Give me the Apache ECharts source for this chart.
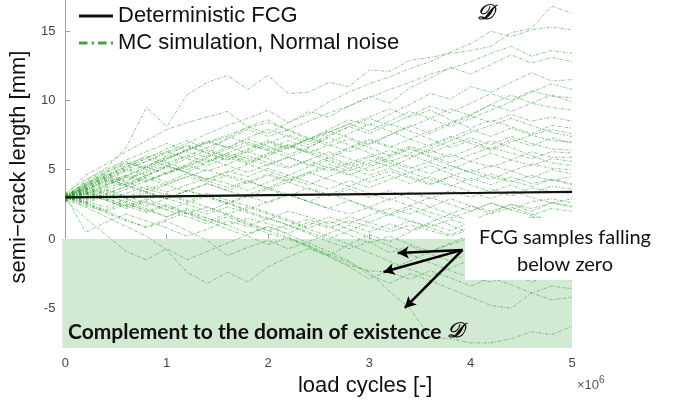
<!DOCTYPE html>
<html>
<head>
<meta charset="utf-8">
<script src="https://cdn.jsdelivr.net/npm/echarts@6/dist/echarts.min.js"></script>
<style>
  html, body { margin: 0; padding: 0; background: #fff; }
  #chart { width: 674px; height: 404px; }
</style>
</head>
<body>
<div id="chart"></div>
<script>
// load cycles (x 10^6) at which each MC sample is evaluated
const cycles = [0, 0.2, 0.4, 0.6, 0.8, 1.0, 1.2, 1.4, 1.6, 1.8, 2.0, 2.2, 2.4,
  2.6, 2.8, 3.0, 3.2, 3.4, 3.6, 3.8, 4.0, 4.2, 4.4, 4.6, 4.8, 5.0];

// deterministic FCG curve
const detCycles = [0, 1, 2, 3, 4, 5];
const detLength = [3.0, 3.08, 3.16, 3.24, 3.32, 3.4];

// Monte Carlo samples (semi-crack length, mm)
const mcRuns = [
  [3.0, 4.2, 5.1, 6.6, 9.5, 8.1, 10.4, 11.3, 11.8, 10.8, 11.8, 10.5, 10.6, 11.3, 11.0, 12.2, 12.1, 12.9, 13.1, 13.4, 13.6, 13.9, 14.9, 15.2, 16.8, 16.3],
  [3.1, 3.6, 4.4, 5.0, 5.6, 6.3, 6.9, 7.6, 8.2, 8.7, 9.3, 8.4, 9.0, 9.9, 10.6, 11.2, 11.7, 12.3, 12.8, 13.5, 14.1, 15.0, 14.6, 15.1, 15.3, 15.1],
  [2.9, 3.8, 4.5, 4.1, 5.2, 6.0, 6.8, 6.2, 7.3, 8.1, 7.6, 8.4, 9.2, 8.8, 9.6, 10.3, 9.8, 10.9, 11.6, 12.4, 11.9, 12.6, 13.3, 12.7, 13.1, 12.8],
  [3.2, 4.6, 5.4, 6.3, 7.1, 7.9, 8.4, 8.8, 9.2, 8.1, 8.6, 7.8, 7.2, 7.9, 8.6, 8.2, 9.0, 9.7, 10.5, 10.1, 11.0, 10.6, 11.3, 12.0, 11.4, 11.5],
  [3.0, 3.5, 4.2, 4.9, 5.3, 5.9, 6.4, 7.0, 6.6, 7.3, 7.9, 7.4, 6.8, 7.5, 8.1, 8.7, 8.2, 8.9, 9.6, 9.1, 9.8, 10.5, 10.0, 10.7, 10.3, 10.2],
  [3.1, 4.0, 4.8, 5.5, 5.1, 5.8, 6.3, 5.9, 6.7, 6.2, 6.9, 7.5, 7.0, 7.7, 8.3, 7.8, 8.5, 9.2, 8.7, 9.4, 8.9, 9.7, 10.4, 9.8, 9.5, 9.3],
  [2.8, 3.3, 3.9, 4.5, 4.1, 4.8, 5.4, 6.1, 5.7, 6.4, 7.0, 6.5, 7.2, 7.8, 7.3, 6.8, 7.5, 8.2, 7.6, 8.3, 8.9, 8.4, 9.0, 8.5, 8.8, 8.5],
  [3.0, 3.7, 4.3, 3.9, 4.6, 5.2, 4.8, 5.5, 6.1, 5.6, 6.2, 6.8, 6.3, 5.8, 6.5, 7.1, 6.6, 7.2, 6.7, 7.3, 7.9, 7.4, 8.0, 7.5, 7.9, 7.6],
  [3.2, 3.9, 4.6, 5.3, 6.0, 5.5, 5.0, 5.6, 6.2, 5.8, 5.3, 5.9, 6.5, 6.0, 6.6, 7.2, 6.7, 6.2, 6.8, 7.4, 6.9, 6.4, 7.0, 7.5, 7.1, 7.0],
  [2.9, 3.4, 3.0, 3.6, 4.2, 4.8, 5.3, 4.9, 5.4, 6.0, 5.5, 5.1, 5.7, 6.3, 5.8, 5.3, 5.9, 6.5, 6.0, 5.5, 6.1, 6.6, 6.2, 5.8, 6.3, 6.2],
  [3.1, 3.6, 4.1, 4.6, 4.2, 4.7, 5.2, 5.8, 5.3, 4.8, 5.4, 5.9, 5.4, 4.9, 5.5, 6.0, 5.5, 5.1, 5.6, 6.1, 5.6, 5.2, 5.7, 5.3, 5.8, 5.6],
  [3.0, 3.8, 4.5, 5.1, 5.6, 6.2, 6.7, 6.2, 5.7, 6.3, 5.8, 5.2, 5.7, 5.1, 4.6, 5.2, 5.7, 5.2, 4.7, 5.3, 4.8, 5.3, 4.9, 5.4, 5.1, 5.0],
  [3.0, 3.3, 3.7, 4.1, 3.6, 4.0, 4.5, 4.1, 4.6, 4.2, 3.7, 4.3, 4.8, 4.3, 3.8, 4.4, 4.9, 4.4, 3.9, 4.5, 5.0, 4.5, 4.1, 4.6, 4.2, 4.5],
  [2.9, 3.2, 2.8, 3.3, 3.8, 3.4, 3.9, 4.4, 4.0, 3.5, 4.1, 4.6, 4.1, 3.6, 4.2, 3.7, 4.3, 4.8, 4.3, 3.8, 4.4, 3.9, 4.5, 4.0, 4.3, 4.0],
  [3.1, 3.6, 4.2, 3.8, 4.4, 3.9, 3.4, 4.0, 3.5, 3.0, 3.6, 3.1, 3.7, 3.2, 3.8, 3.3, 2.8, 3.4, 2.9, 3.5, 3.0, 3.6, 3.1, 3.7, 3.4, 3.3],
  [3.0, 2.6, 3.1, 2.7, 3.3, 2.9, 3.5, 3.0, 2.5, 3.1, 2.6, 3.2, 2.7, 2.2, 2.8, 2.3, 2.9, 2.4, 3.0, 2.5, 2.0, 2.6, 2.1, 2.7, 2.9, 2.6],
  [3.2, 3.7, 3.3, 2.9, 2.4, 2.9, 2.5, 2.0, 2.6, 2.1, 2.7, 3.2, 2.7, 2.2, 1.8, 2.3, 1.8, 2.4, 1.9, 1.5, 2.0, 2.6, 2.1, 1.7, 2.2, 2.0],
  [2.8, 2.4, 2.0, 2.5, 2.1, 1.6, 2.2, 1.8, 2.3, 1.9, 1.4, 2.0, 1.6, 1.1, 1.6, 1.2, 1.8, 1.3, 0.9, 1.4, 1.0, 1.5, 1.1, 1.6, 1.4, 1.2],
  [3.0, 2.5, 1.9, 1.3, 0.9, 1.4, 1.9, 1.5, 1.0, 1.5, 1.1, 0.7, 1.2, 0.8, 1.3, 0.9, 0.5, 1.0, 0.6, 0.2, 0.7, 0.3, 0.8, 0.4, 0.9, 0.6],
  [2.8, 1.5, 0.3, -0.9, -1.5, -0.7, -1.5, -0.9, -0.3, 0.3, 0.9, 0.4, 1.0, 1.6, 1.1, 1.7, 2.2, 1.8, 2.3, 1.8, 2.4, 2.0, 2.5, 2.2, 2.6, 2.3],
  [3.0, 2.3, 1.6, 0.9, 0.2, -0.8, -2.4, -3.2, -2.4, -3.1, -2.0, -1.3, -0.7, -1.2, -0.4, 0.3, -0.2, 0.5, 1.1, 0.6, 1.2, 0.7, 1.3, 0.9, 1.4, 1.1],
  [3.1, 0.5, 1.2, 1.8, 1.3, 0.8, 0.2, 0.7, 1.3, 0.9, 1.5, 1.0, 0.5, 0.0, 0.6, 1.2, 0.7, 1.3, 0.8, 0.3, 0.9, 1.4, 1.0, 1.6, 1.2, 1.4],
  [2.9, 3.4, 2.9, 2.4, 1.9, 2.4, 1.8, 1.3, 1.8, 1.2, 0.6, 0.1, -0.5, -1.1, -1.7, -2.4, -3.8, -5.0, -7.1, -7.2, -7.5, -7.5, -7.2, -6.7, -6.9, -6.3],
  [3.0, 2.6, 2.1, 2.7, 2.2, 1.6, 2.1, 1.5, 1.0, 0.4, 0.9, 0.3, -0.3, -0.9, -1.6, -2.6, -3.2, -2.5, -3.0, -3.6, -4.2, -4.8, -5.0, -3.9, -4.4, -4.2],
  [3.2, 2.7, 3.2, 2.6, 2.0, 2.5, 1.9, 1.3, 0.7, 0.2, -0.4, 0.1, -0.5, -1.2, -1.9, -2.3, -2.4, -2.9, -2.3, -2.8, -3.4, -2.8, -3.3, -3.9, -3.4, -3.6],
  [3.0, 3.5, 3.0, 2.4, 2.9, 2.3, 1.8, 2.3, 1.7, 1.1, 0.6, 1.0, 0.4, -0.2, -0.7, -0.2, -1.0, -0.5, -1.1, -1.6, -1.0, -1.5, -2.1, -1.6, -2.2, -1.8],
  [3.1, 2.6, 2.0, 1.4, 0.8, 1.3, 0.6, -0.1, -1.2, -0.6, -0.1, -0.7, -0.2, 0.4, 1.0, 0.5, 1.1, 0.6, 1.2, 1.8, 1.3, 1.9, 2.5, 2.0, 2.6, 2.4],
  [2.9, 3.3, 2.8, 2.2, 2.7, 2.1, 1.6, 1.1, 1.6, 1.0, 0.4, 0.0, -0.6, -1.3, -2.0, -2.9, -2.2, -1.6, -0.9, -0.3, 0.3, -0.2, 0.4, 1.0, 0.5, 0.8],
  [3.0, 4.1, 4.9, 5.6, 5.0, 5.7, 6.5, 7.1, 6.6, 7.2, 6.7, 6.1, 6.6, 7.3, 6.8, 6.2, 5.6, 6.1, 5.5, 5.0, 5.6, 6.2, 5.7, 6.3, 5.9, 5.9],
  [3.3, 4.3, 5.0, 5.7, 6.3, 6.9, 6.4, 6.9, 7.4, 6.9, 6.4, 6.8, 6.2, 5.6, 5.1, 4.6, 5.1, 4.5, 4.0, 4.5, 3.9, 3.4, 3.9, 3.3, 3.8, 3.6],
  [2.8, 3.5, 4.0, 4.6, 5.2, 4.7, 5.3, 5.9, 6.5, 7.0, 6.5, 7.1, 6.6, 7.4, 8.1, 7.6, 8.3, 7.8, 7.2, 6.6, 7.1, 6.5, 7.2, 6.7, 7.3, 6.9],
  [3.1, 3.8, 4.4, 3.9, 3.4, 3.9, 4.5, 5.0, 4.5, 4.0, 4.6, 4.1, 3.6, 3.1, 3.6, 3.0, 3.5, 2.9, 2.3, 2.9, 2.4, 1.8, 2.3, 1.8, 1.2, 0.8],
  [2.9, 3.9, 4.8, 5.4, 5.9, 6.3, 5.8, 6.4, 5.9, 5.4, 6.0, 6.6, 7.2, 7.7, 8.3, 8.8, 9.4, 8.8, 9.3, 8.6, 8.0, 8.6, 8.1, 7.6, 8.2, 8.0],
  [3.0, 3.4, 3.9, 4.4, 4.8, 5.3, 4.8, 4.3, 4.8, 5.4, 4.9, 4.4, 3.9, 4.5, 5.1, 5.7, 5.2, 5.8, 6.4, 5.9, 6.5, 7.1, 6.6, 6.0, 5.5, 5.3],
  [3.2, 2.8, 3.3, 3.8, 3.4, 2.9, 3.5, 3.1, 2.6, 3.2, 3.7, 3.2, 2.7, 3.3, 2.8, 2.2, 1.7, 2.2, 1.6, 1.0, 0.4, -0.2, -0.8, -0.3, -0.9, -0.5],
  [2.7, 3.2, 3.8, 4.5, 5.2, 5.8, 6.4, 7.0, 7.5, 8.0, 8.4, 7.9, 8.5, 9.1, 9.6, 10.2, 10.8, 11.3, 11.9, 12.3, 12.8, 13.4, 13.9, 13.2, 13.6, 13.4],
  [3.0, 3.6, 3.2, 3.8, 4.5, 5.3, 6.0, 6.6, 7.2, 7.9, 7.4, 7.9, 7.3, 6.7, 7.2, 6.6, 6.0, 6.6, 5.9, 5.3, 4.8, 4.3, 4.9, 4.4, 5.0, 4.7],
  [3.1, 2.7, 2.3, 2.9, 3.4, 2.9, 3.5, 4.0, 3.5, 4.1, 4.7, 4.2, 4.8, 5.4, 4.9, 5.5, 6.1, 6.7, 6.2, 6.8, 7.3, 6.8, 7.4, 6.9, 6.5, 6.4],
  [3.0, 3.5, 4.3, 5.0, 4.6, 5.2, 5.8, 5.3, 5.9, 6.5, 7.1, 6.6, 7.3, 6.9, 7.6, 8.3, 7.8, 7.2, 7.8, 8.4, 9.0, 9.7, 9.2, 9.8, 10.4, 9.9],
  [3.1, 2.9, 3.5, 4.0, 4.6, 4.1, 4.7, 4.2, 3.7, 4.2, 3.6, 4.1, 4.7, 5.2, 4.7, 4.1, 4.6, 4.0, 4.5, 3.9, 3.4, 2.9, 3.5, 3.0, 2.6, 2.9],
  [2.9, 3.7, 4.5, 5.2, 5.8, 6.5, 7.1, 6.5, 6.0, 5.5, 6.1, 6.7, 6.2, 6.8, 6.3, 6.9, 7.5, 8.1, 8.7, 8.1, 8.7, 9.3, 9.9, 10.6, 11.2, 10.8],
  [3.0, 3.2, 3.6, 3.1, 2.6, 2.1, 2.6, 3.1, 2.6, 2.0, 1.5, 1.0, 1.4, 0.9, 0.3, -0.3, 0.2, -0.4, -0.9, -0.4, 0.1, -0.5, 0.0, 0.5, 0.0, 0.3],
  [3.2, 4.0, 4.7, 4.2, 4.9, 5.5, 6.0, 5.6, 6.2, 6.8, 6.4, 5.9, 5.3, 5.9, 5.4, 4.9, 5.4, 4.8, 5.3, 4.7, 4.2, 4.7, 4.2, 3.8, 4.3, 3.9],
  [2.8, 3.0, 3.5, 3.0, 3.6, 3.2, 2.7, 3.3, 2.8, 2.4, 1.9, 1.4, 0.8, 1.3, 0.7, 0.1, -0.5, -1.1, -1.7, -2.3, -2.8, -3.1, -2.5, -3.1, -2.6, -3.0],
  [3.0, 3.9, 4.6, 5.2, 5.8, 5.3, 4.8, 4.3, 4.9, 4.5, 5.1, 4.6, 5.2, 5.7, 5.3, 5.9, 6.4, 5.9, 6.5, 7.1, 7.7, 8.2, 8.7, 8.2, 7.7, 7.4],
  [3.1, 3.3, 2.8, 2.3, 2.8, 3.3, 2.8, 2.3, 1.8, 2.3, 1.8, 1.3, 0.7, 0.2, -0.4, -1.0, -1.6, -2.2, -2.7, -2.1, -1.5, -2.0, -1.4, -0.8, -1.3, -0.9]
];

// axes
const xTicks = [0, 1, 2, 3, 4, 5];
const yTicks = [-5, 0, 5, 10, 15];
const xRange = [-0.03, 5];
const yRange = [-7.87, 17.25];

// domain of existence boundary and the annotation arrows (data units)
const zeroLevel = 0;
const arrowFrom = [3.92, -0.79];
const arrowTargets = [[3.28, -1.01], [3.14, -2.38], [3.35, -4.98]];

const MC_NAME = 'MC simulation, Normal noise';
const DET_NAME = 'Deterministic FCG';
const mcGreen = 'rgba(40, 150, 40, 0.68)';

const chart = echarts.init(document.getElementById('chart'), null, { renderer: 'canvas' });

const series = [];

// shaded complement region lives on a helper series
series.push({
  name: 'region',
  type: 'line',
  data: [],
  z: 1,
  silent: true,
  markArea: {
    silent: true,
    itemStyle: { color: '#d2e9d2' },
    data: [[
      { coord: [xRange[0], zeroLevel] },
      { coord: [xRange[1], yRange[0]] }
    ]]
  }
});

mcRuns.forEach(run => {
  series.push({
    name: MC_NAME,
    type: 'line',
    symbol: 'none',
    z: 2,
    silent: true,
    data: cycles.map((c, i) => [c, run[i]]),
    lineStyle: { color: mcGreen, width: 0.8, type: [3, 1.5, 1, 1.5] }
  });
});

series.push({
  name: DET_NAME,
  type: 'line',
  symbol: 'none',
  z: 3,
  data: detCycles.map((c, i) => [c, detLength[i]]),
  lineStyle: { color: '#111', width: 2.2 },
  markLine: {
    silent: true,
    symbol: ['none', 'arrow'],
    symbolSize: [9, 11],
    label: { show: false },
    lineStyle: { color: '#000', width: 2.5, type: 'solid' },
    data: arrowTargets.map(t => [{ coord: arrowFrom }, { coord: t }])
  }
});

const option = {
  animation: false,
  grid: { left: 60, right: 102, top: 0, bottom: 56 },
  legend: {
    orient: 'vertical',
    left: 74,
    top: 0,
    itemWidth: 34,
    itemHeight: 14,
    itemGap: 5,
    textStyle: { fontFamily: 'Liberation Sans', fontSize: 22, color: '#111' },
    data: [
      { name: DET_NAME, icon: 'path://M0,6 L34,6 L34,9 L0,9 Z', itemStyle: { color: '#111' } },
      { name: MC_NAME, icon: 'path://M0,6h8v3h-8z M12,6h2v3h-2z M18,6h8v3h-8z M30,6h2v3h-2z', itemStyle: { color: '#45a045' } }
    ]
  },
  xAxis: {
    type: 'value',
    min: xRange[0],
    max: xRange[1],
    name: 'load cycles [-]',
    nameLocation: 'middle',
    nameGap: 25,
    nameTextStyle: { fontFamily: 'Liberation Sans', fontSize: 22, color: '#111', padding: [0, 0, 0, 96] },
    axisLine: { lineStyle: { color: '#a0a0a0', width: 1 } },
    axisTick: { inside: true, length: 5, lineStyle: { color: '#a0a0a0' }, customValues: xTicks },
    axisLabel: { color: '#444', fontSize: 13, fontFamily: 'Liberation Sans', margin: 9, customValues: xTicks },
    splitLine: { show: false }
  },
  yAxis: {
    type: 'value',
    min: yRange[0],
    max: yRange[1],
    name: 'semi\u2212crack length [mm]',
    nameLocation: 'middle',
    nameGap: 24,
    nameTextStyle: { fontFamily: 'Liberation Sans', fontSize: 22, color: '#111', padding: [0, 0, 0, 14] },
    axisLine: { show: true, lineStyle: { color: '#a0a0a0', width: 1 } },
    axisTick: { show: true, inside: true, length: 5, lineStyle: { color: '#a0a0a0' }, customValues: yTicks },
    axisLabel: { color: '#444', fontSize: 13, fontFamily: 'Liberation Sans', margin: 7, customValues: yTicks },
    splitLine: { show: false }
  },
  graphic: [
    {
      type: 'rect',
      z: 100,
      shape: { x: 465, y: 218, width: 209, height: 62 },
      style: { fill: '#fff' }
    },
    {
      type: 'text',
      z: 101,
      x: 565,
      y: 251,
      style: {
        text: 'FCG samples falling\nbelow zero',
        font: '20px Lato',
        fill: '#111',
        align: 'center',
        verticalAlign: 'middle',
        lineHeight: 27
      }
    },
    {
      type: 'text',
      z: 101,
      x: 68,
      y: 332,
      style: {
        text: 'Complement to the domain of existence {d|\uD835\uDC9F}',
        font: 'bold 21px Lato',
        fill: '#111',
        verticalAlign: 'middle',
        rich: { d: { font: 'italic bold 21px "DejaVu Serif"', fill: '#111' } }
      }
    },
    {
      type: 'text',
      z: 101,
      x: 485,
      y: 14,
      style: {
        text: '\uD835\uDC9F',
        font: 'italic bold 21px "DejaVu Serif"',
        fill: '#111',
        align: 'center',
        verticalAlign: 'middle'
      }
    },
    {
      type: 'text',
      z: 101,
      x: 577,
      y: 385,
      style: {
        text: '\u00D710{s|6}',
        font: '13px "Liberation Sans"',
        fill: '#555',
        verticalAlign: 'middle',
        rich: { s: { font: '10px "Liberation Sans"', fill: '#555', verticalAlign: 'top', padding: [0, 0, 10, 0] } }
      }
    }
  ],
  series: series
};

chart.setOption(option);
</script>
</body>
</html>
